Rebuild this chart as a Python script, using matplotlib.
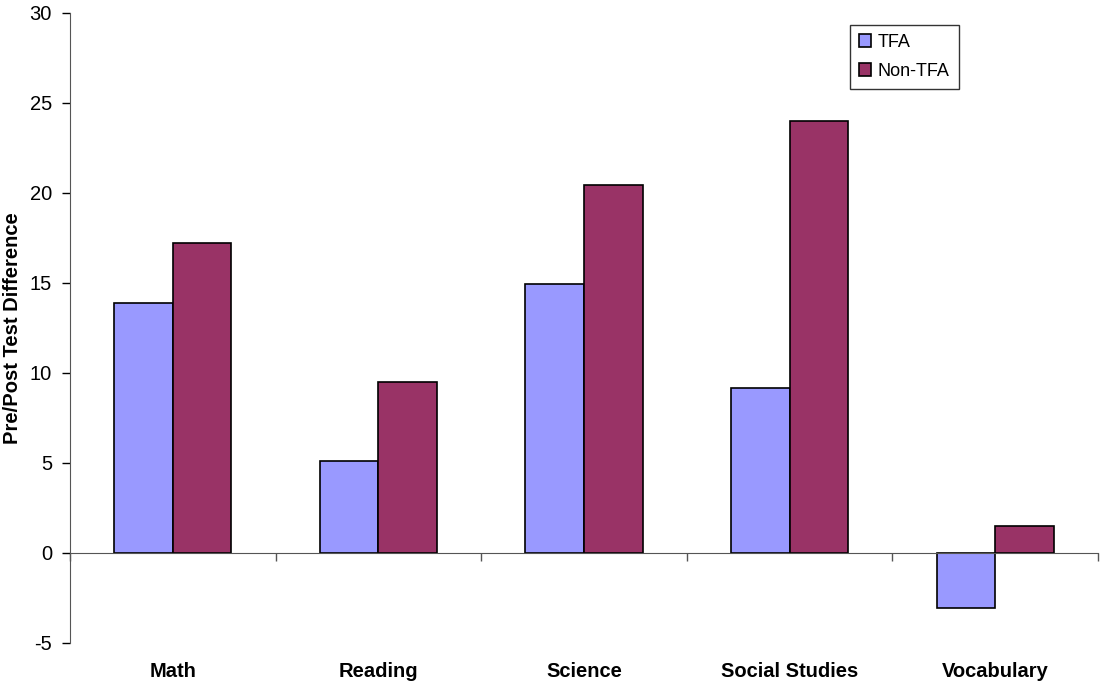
import matplotlib
matplotlib.use("Agg")
import matplotlib.pyplot as plt
import matplotlib.transforms as mtransforms
import numpy as np

plt.rcParams["font.family"] = ["Liberation Sans", "DejaVu Sans"]
plt.rcParams["axes.unicode_minus"] = False

subjects = ["Math", "Reading", "Science", "Social Studies", "Vocabulary"]
tfa = [13.9, 5.1, 14.95, 9.15, -3.05]
non_tfa = [17.2, 9.5, 20.45, 24.0, 1.5]

fig = plt.figure(figsize=(11, 6.85), dpi=100)
ax = fig.add_axes([70 / 1100, 1 - 643 / 685, 1028 / 1100, 630 / 685])

x = np.arange(len(subjects)) + 0.5
w = 0.285
ax.bar(x - w / 2, tfa, w, color="#9999FF", edgecolor="black", linewidth=1.2, label="TFA")
ax.bar(x + w / 2, non_tfa, w, color="#993366", edgecolor="black", linewidth=1.2, label="Non-TFA")

ax.set_xlim(0, len(subjects))
ax.set_ylim(-5, 30)
ax.set_yticks(range(-5, 31, 5))
ax.tick_params(axis="y", labelsize=14.5, length=6, width=1, direction="out", pad=7)

# category axis sits on the zero line, ticks between groups
for s in ["top", "right"]:
    ax.spines[s].set_visible(False)
ax.spines["bottom"].set_position(("data", 0))
ax.spines["bottom"].set_color("#555555")
ax.spines["left"].set_color("#555555")
ax.set_xticks(np.arange(len(subjects) + 1))
ax.set_xticklabels([])
ax.tick_params(axis="x", length=6, width=1, direction="out", colors="#555555")

trans = mtransforms.blended_transform_factory(ax.transData, ax.transAxes)
for xi, name in zip(x, subjects):
    ax.text(xi, -0.046, name, transform=trans, ha="center", va="center",
            fontsize=14.5, fontweight="bold")

ax.set_ylabel("Pre/Post Test Difference", fontsize=14.5, fontweight="bold")
ax.yaxis.set_label_coords(-0.047, 0.5)

leg = ax.legend(loc="upper left", bbox_to_anchor=(0.755, 0.987), fontsize=13,
                frameon=True, fancybox=False, handlelength=0.7, handleheight=0.7,
                handletextpad=0.35, borderpad=0.5, labelspacing=0.65,
                borderaxespad=0.2)
leg.get_frame().set_edgecolor("black")
leg.get_frame().set_linewidth(1.0)

fig.savefig("out.png", dpi=100)
